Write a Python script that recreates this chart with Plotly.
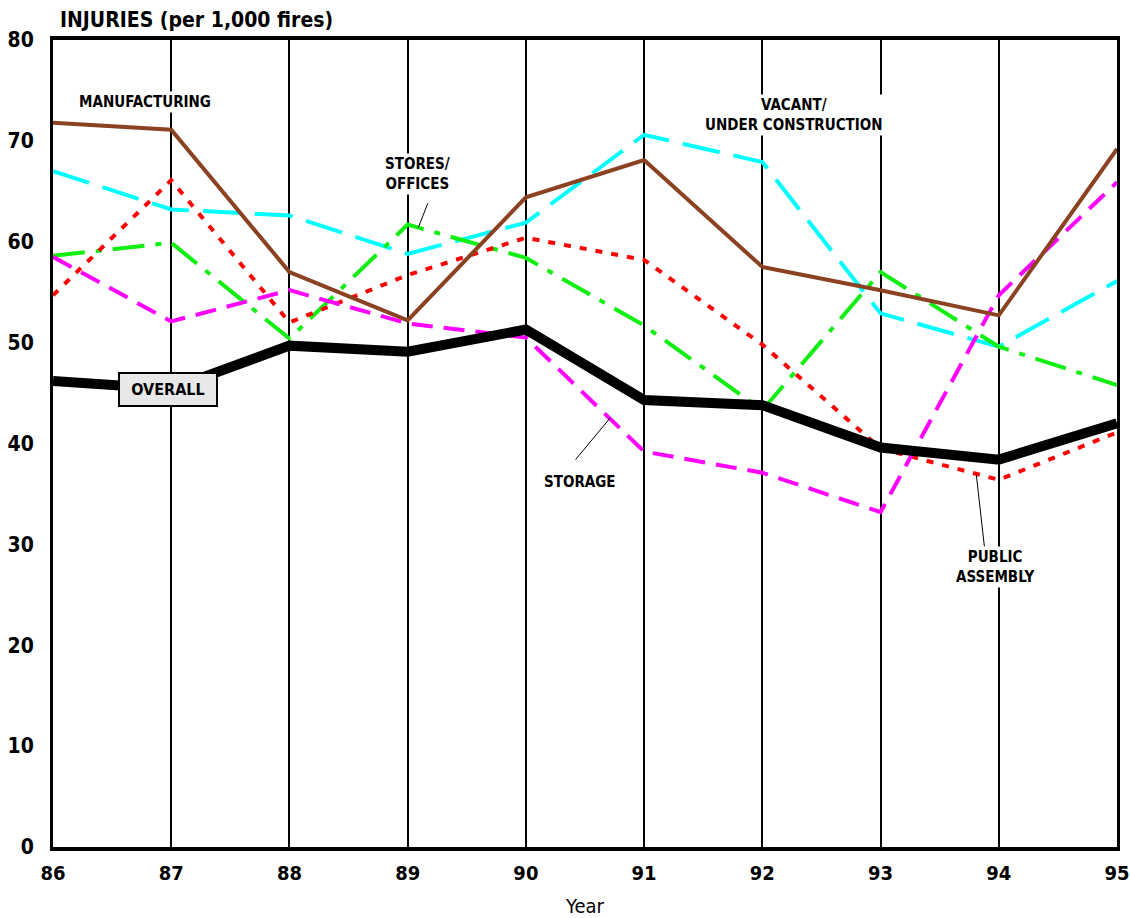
"""
Injuries per 1,000 fires by property type, 1986-1995.
"""

import plotly.graph_objects as go

years = [86, 87, 88, 89, 90, 91, 92, 93, 94, 95]

manufacturing = [71.8, 71.1, 57.0, 52.2, 64.4, 68.1, 57.5, 55.2, 52.7, 69.2]
vacant = [67.0, 63.2, 62.6, 58.8, 61.9, 70.6, 67.9, 52.9, 49.6, 56.1]
stores_offices = [58.6, 59.9, 50.4, 61.7, 58.4, 51.7, 43.3, 57.0, 49.6, 45.8]
public_assembly = [54.7, 66.1, 52.0, 56.7, 60.4, 58.2, 49.8, 39.5, 36.4, 41.1]
storage = [58.5, 52.1, 55.2, 51.9, 50.5, 39.2, 37.1, 33.2, 54.7, 65.9]
overall = [46.2, 45.4, 49.7, 49.1, 51.3, 44.3, 43.8, 39.6, 38.4, 42.0]

FONT = "DejaVu Sans Condensed, Liberation Sans, sans-serif"

fig = go.Figure()

# series: (values, name, colour, width, dash)
series = [
    (vacant, "Vacant/Under construction", "#00ffff", 4, "38px,14px"),
    (stores_offices, "Stores/Offices", "#11ee11", 4, "32px,11px,6px,11px"),
    (public_assembly, "Public assembly", "#ff0000", 4, "7px,9px"),
    (storage, "Storage", "#ff00ff", 4, "21px,11px"),
    (manufacturing, "Manufacturing", "#8b4222", 4, "solid"),
    (overall, "Overall", "#000000", 10, "solid"),
]
for vals, name, color, width, dash in series:
    fig.add_trace(go.Scatter(
        x=years, y=vals, mode="lines", name=name,
        line=dict(color=color, width=width, dash=dash),
        hoverinfo="x+y+name",
    ))

# leader lines for the labels
leaders = [
    ((89.17, 63.8), (89.09, 61.4)),
    ((90.42, 38.4), (90.71, 42.5)),
    ((93.88, 29.6), (93.81, 36.9)),
]
for (x0, y0), (x1, y1) in leaders:
    fig.add_shape(type="line", x0=x0, y0=y0, x1=x1, y1=y1,
                  line=dict(color="black", width=1))

labels = [
    (86.78, 73.9, "MANUFACTURING"),
    (89.08, 66.7, "STORES/<br>OFFICES"),
    (92.27, 72.6, "VACANT/<br>UNDER CONSTRUCTION"),
    (90.46, 36.2, "STORAGE"),
    (93.97, 27.8, "PUBLIC<br>ASSEMBLY"),
]
for x, y, txt in labels:
    fig.add_annotation(
        x=x, y=y, text=f"<b>{txt}</b>", showarrow=False,
        font=dict(family=FONT, size=15, color="black"),
        bgcolor="white", align="center",
    )

fig.add_annotation(
    x=86.97, y=45.34, text="<b>OVERALL</b>", showarrow=False,
    font=dict(family=FONT, size=16, color="black"),
    width=92, height=27,
    bgcolor="#e8e8e8", bordercolor="black", borderwidth=2, borderpad=2,
)

fig.add_annotation(
    xref="paper", yref="paper", x=0, y=1, xshift=5, yshift=20,
    xanchor="left", yanchor="middle", showarrow=False,
    text="<b>INJURIES (per 1,000 fires)</b>",
    font=dict(family=FONT, size=21, color="black"),
)

fig.update_xaxes(
    range=[86, 95], tickmode="array", tickvals=years,
    showgrid=True, gridcolor="black", gridwidth=1.5,
    showline=True, linecolor="black", linewidth=4, mirror=True,
    zeroline=False, ticks="", automargin=False, ticklabelstandoff=5,
    ticklabeloverflow="allow",
    tickfont=dict(family=FONT, size=20, color="black", weight="bold"),
    title=dict(text="Year", font=dict(family=FONT, size=20, color="black"), standoff=18),
)
fig.update_yaxes(
    range=[0, 80], tickmode="array", tickvals=list(range(0, 81, 10)),
    showgrid=False, zeroline=False, automargin=False,
    showline=True, linecolor="black", linewidth=3, mirror=True, ticks="",
    ticklabelstandoff=12,
    tickfont=dict(family=FONT, size=21, color="black", weight="bold"),
)

fig.update_layout(
    width=1130, height=918,
    margin=dict(l=53, r=13, t=40, b=71),
    plot_bgcolor="white", paper_bgcolor="white",
    showlegend=False,
)

# drop the default body margin so the figure fills the window exactly
fig.write_html(
    "out.html",
    config={"displayModeBar": False},
    post_script="document.body.style.margin='0';document.body.style.overflow='hidden';",
)
